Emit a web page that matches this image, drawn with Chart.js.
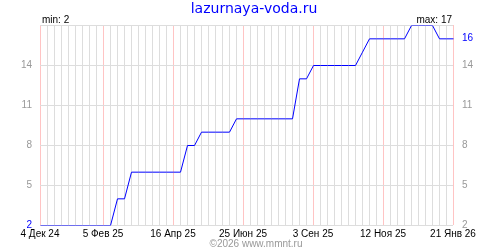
<!DOCTYPE html>
<html>
<head>
<meta charset="utf-8">
<script src="https://cdn.jsdelivr.net/npm/chart.js@4"></script>
<style>
  html, body { margin: 0; padding: 0; background: #fff; }
  canvas { display: block; }
</style>
</head>
<body>
<canvas id="grafico" width="500" height="250"></canvas>
<script>
// weekly readings, 4 Dec 2024 .. 21 Jan 2026
const valores = [
    2, 2, 2, 2, 2, 2, 2, 2, 2, 2, 2,
    4, 4,
    6, 6, 6, 6, 6, 6, 6, 6,
    8, 8,
    9, 9, 9, 9, 9,
    10, 10, 10, 10, 10, 10, 10, 10, 10,
    13, 13,
    14, 14, 14, 14, 14, 14, 14,
    15,
    16, 16, 16, 16, 16, 16,
    17, 17, 17, 17,
    16, 16, 16
];
const rotulosX = ['4 Дек 24', '5 Фев 25', '16 Апр 25', '25 Июн 25', '3 Сен 25', '12 Ноя 25', '21 Янв 26'];
const semanasRotulos = [0, 9, 19, 29, 39, 49, 59];
const ticksY = [2, 5, 8, 11, 14, 17];

const titulo = 'lazurnaya-voda.ru';
const copyright = '©2026 www.mmnt.ru';

// categorias: uma por semana
const inicio = new Date(2024, 11, 4);
const semanas = valores.map((v, i) => {
    const d = new Date(inicio);
    d.setDate(d.getDate() + i * 7);
    return d.toISOString().slice(0, 10);
});

const minimo = Math.min(...valores);
const maximo = Math.max(...valores);
const atual = valores[valores.length - 1];

const fonte = { family: 'Liberation Sans', size: 10 };

// textos extras (titulo, min/max, copyright) e linha nitida
const textosPlugin = {
    id: 'textos',
    beforeDatasetsDraw(chart) {
        chart.ctx.save();
        chart.ctx.translate(0.5, 0.5);
    },
    afterDatasetsDraw(chart) {
        chart.ctx.restore();
    },
    afterDraw(chart) {
        const { ctx, chartArea } = chart;
        ctx.save();
        ctx.textBaseline = 'alphabetic';

        ctx.font = '14px "DejaVu Sans"';
        ctx.fillStyle = '#0000ff';
        ctx.textAlign = 'center';
        ctx.fillText(titulo, 254, 13);

        ctx.font = '10px "Liberation Sans"';
        ctx.fillStyle = '#000';
        ctx.textAlign = 'left';
        ctx.fillText('min: ' + minimo, chartArea.left + 2, chartArea.top - 2);
        ctx.textAlign = 'right';
        ctx.fillText('max: ' + maximo, chartArea.right - 1, chartArea.top - 2);

        ctx.fillStyle = '#999';
        ctx.textAlign = 'center';
        ctx.fillText(copyright, 256, 247);
        ctx.restore();
    }
};

new Chart(document.getElementById('grafico'), {
    type: 'line',
    data: {
        labels: semanas,
        datasets: [{
            data: valores,
            borderColor: '#0000ff',
            borderWidth: 1,
            pointRadius: 0,
            tension: 0,
            fill: false
        }]
    },
    options: {
        responsive: false,
        devicePixelRatio: 1,
        animation: false,
        events: [],
        layout: { padding: { top: 25, left: 0, right: 0, bottom: 0 } },
        plugins: {
            legend: { display: false },
            tooltip: { enabled: false }
        },
        scales: {
            x: {
                type: 'category',
                offset: false,
                grid: {
                    color: ctx => semanasRotulos.includes(ctx.index) ? '#ffc4c4' : '#dddddd',
                    drawTicks: false,
                    lineWidth: 1
                },
                border: { display: false },
                ticks: {
                    autoSkip: false,
                    maxRotation: 0,
                    padding: 3,
                    color: '#000',
                    font: fonte,
                    callback: (v, i) => {
                        const k = semanasRotulos.indexOf(i);
                        return k >= 0 ? rotulosX[k] : '';
                    }
                },
                afterFit: s => { s.height = 25; }
            },
            y: {
                position: 'left',
                min: 2,
                max: 17,
                afterBuildTicks: s => { s.ticks = ticksY.map(v => ({ value: v })); },
                grid: { color: '#dddddd', drawTicks: false },
                border: { display: false },
                ticks: {
                    padding: 8,
                    font: fonte,
                    color: ctx => ctx.tick.value === minimo ? '#0000ff' : '#999',
                    callback: v => v === 17 ? '' : v
                },
                afterFit: s => { s.width = 40; }
            },
            y2: {
                position: 'right',
                min: 2,
                max: 17,
                afterBuildTicks: s => {
                    s.ticks = ticksY.filter(v => v !== 17).concat([atual]).map(v => ({ value: v }));
                },
                grid: { display: false, drawTicks: false },
                border: { display: false },
                ticks: {
                    padding: 9,
                    font: fonte,
                    color: ctx => ctx.tick.value === atual ? '#0000ff' : '#999'
                },
                afterFit: s => { s.width = 47; }
            }
        }
    },
    plugins: [textosPlugin]
});
</script>
</body>
</html>
